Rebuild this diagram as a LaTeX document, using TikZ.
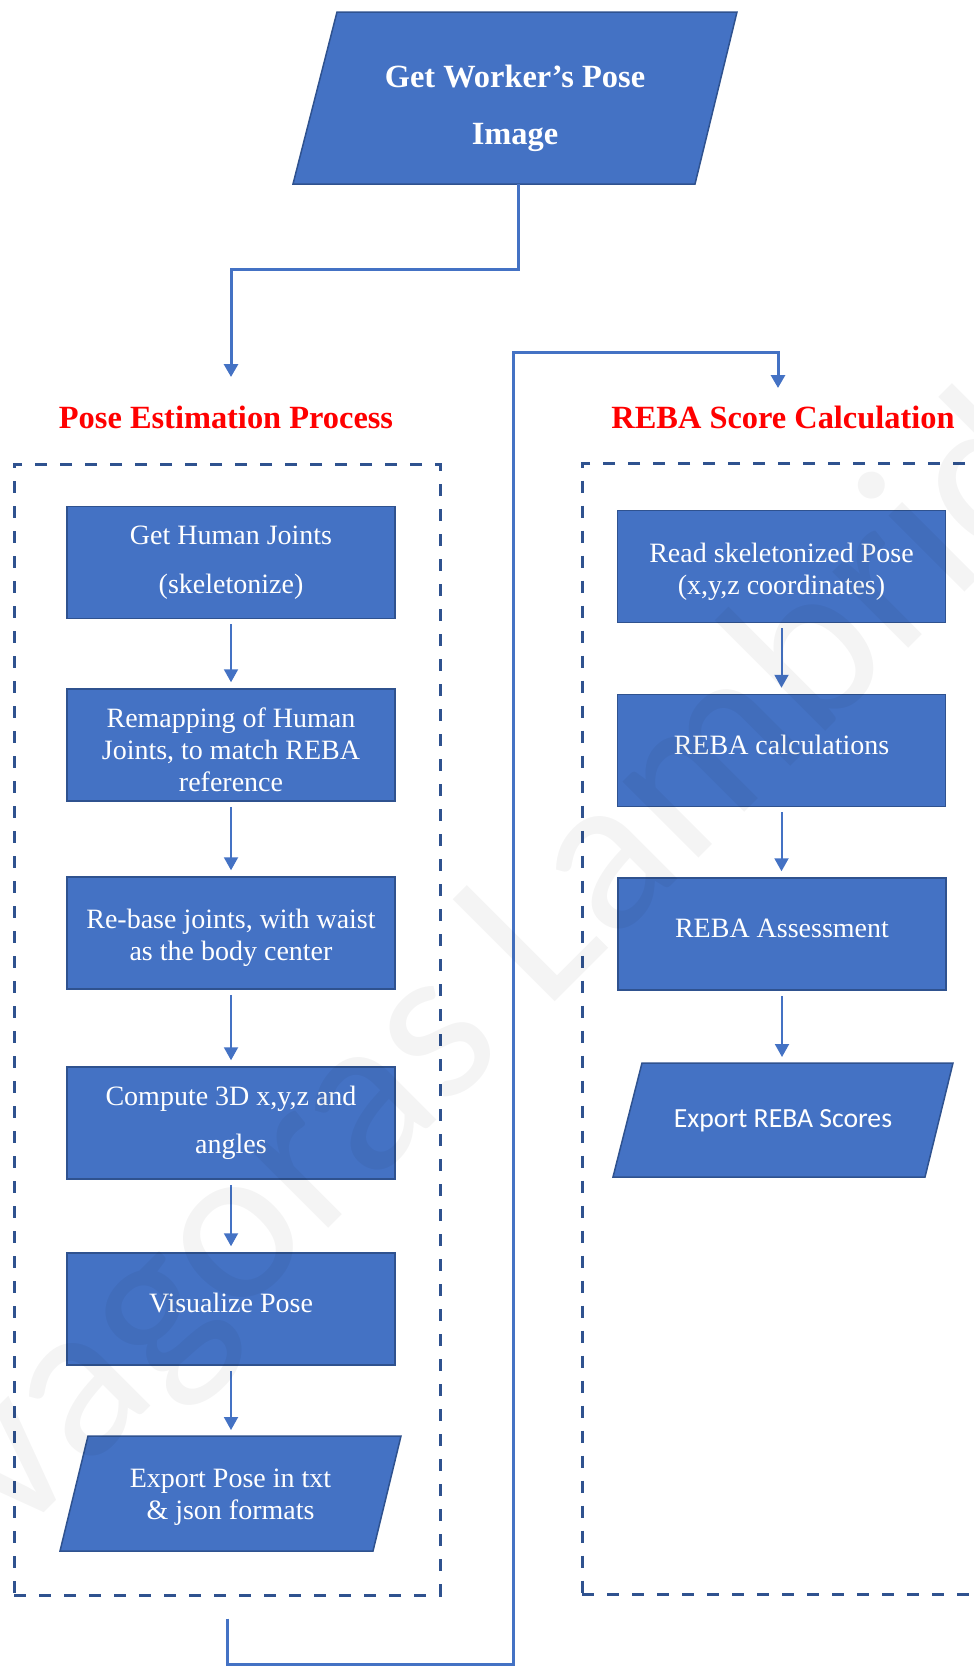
\documentclass[tikz,border=0pt]{standalone}
\usepackage{fontspec}
\setmainfont{Liberation Serif}
\newfontfamily\calibri{Carlito}
\usetikzlibrary{arrows.meta}
\definecolor{boxblue}{HTML}{4472C4}
\definecolor{edgeblue}{HTML}{2F528F}

\begin{document}
\begin{tikzpicture}[x=1pt,y=-1pt,
    process/.style={rectangle, fill=boxblue, draw=edgeblue, line width=1.5pt,
        minimum width=328pt, minimum height=112pt, inner sep=0pt,
        text=white, align=center, font=\fontsize{28}{32}\selectfont},
    ioshape/.style={fill=boxblue, draw=edgeblue, line width=1.5pt},
    iotext/.style={text=white, align=center, inner sep=0pt},
    group/.style={rectangle, draw=edgeblue, line width=3pt,
        dash pattern=on 12pt off 13pt, minimum width=426pt, minimum height=1131pt},
    heading/.style={text=red, font=\bfseries\fontsize{32.4}{38}\selectfont},
    link/.style={draw=boxblue, line width=2pt, -{Triangle[width=14pt,length=13pt]},
        shorten <=5pt, shorten >=6pt},
    conn/.style={draw=boxblue, line width=3pt, -{Triangle[width=14pt,length=13pt]}}
]
    \useasboundingbox (0,0) rectangle (974,1666);
    \clip (0,0) rectangle (974,1666);
    \newcommand\up{\rule{0pt}{30pt}}
    \newcommand\dn{\rule[-12pt]{0pt}{12pt}}

    % input
    \filldraw[ioshape] (293,184) -- (337,12) -- (737,12) -- (695,184) -- cycle;
    \node[iotext, font=\bfseries\fontsize{32.4}{57}\selectfont] (pose img) at (515,108)
        {Get Worker’s Pose\\Image};
    \coordinate (pose out) at (518,184);

    % the two groups
    \node[heading] (pe title) at (226,417) {Pose Estimation Process};
    \node[heading] (reba title) at (783,417) {REBA Score Calculation};
    \node[group] (pe box) at (227,1029.5) {};
    \node[group] (reba box) at (795,1029) {};

    % pose estimation
    \node[process] (pe1) at (231,562.5) {Get Human Joints\\[17pt](skeletonize)};
    \node[process] (pe2) at (231,745) {\up Remapping of Human\\Joints, to match REBA\\reference};
    \node[process] (pe3) at (231,933) {\up Re-base joints, with waist\\as the body center};
    \node[process] (pe4) at (231,1123) {Compute 3D x,y,z and\\[16pt]angles};
    \node[process] (pe5) at (231,1309) {Visualize Pose\dn};
    \filldraw[ioshape] (60,1551) -- (88,1436) -- (401,1436) -- (373,1551) -- cycle;
    \node[iotext, font=\fontsize{28}{32}\selectfont] (pe6) at (230.5,1497)
        {Export Pose in txt\\\& json formats};
    \coordinate (pe6 top) at (231,1436);

    % REBA
    \node[process] (rb1) at (781.5,566.5) {\up Read skeletonized Pose\\(x,y,z coordinates)};
    \node[process] (rb2) at (781.5,750.5) {REBA calculations\dn};
    \node[process] (rb3) at (782,934) {REBA Assessment\dn};
    \filldraw[ioshape] (613,1177) -- (642,1063) -- (953,1063) -- (925,1177) -- cycle;
    \node[iotext, font=\calibri\fontsize{27.7}{32}\selectfont] (rb4) at (783,1121)
        {Export REBA Scores};
    \coordinate (rb4 top) at (782,1063);

    \foreach \a/\b in {pe1/pe2.north,pe2/pe3.north,pe3/pe4.north,pe4/pe5.north,pe5/pe6 top,
                       rb1/rb2.north,rb2/rb3.north,rb3/rb4 top}
        \draw[link] (\a.south) -- (\a.south |- \b);

    % connectors between the parts
    \coordinate (bend) at (231,269);
    \coordinate (pe in) at (231,377);
    \draw[conn] (pose out) |- (bend) -- (pe in);

    \coordinate (low) at (513,1664);
    \coordinate (high) at (513,352);
    \coordinate (reba in) at (778,388);
    \draw[conn] ([yshift=-22pt]pe box.south) |- (low) -- (high) -| (reba in);

    % watermark
    \node[rotate=45, anchor=base west, text=black, opacity=0.045,
        font=\calibri\fontsize{225}{225}\selectfont] (mark) at (12,1545)
        {vagoras Lambrid};
\end{tikzpicture}
\end{document}
